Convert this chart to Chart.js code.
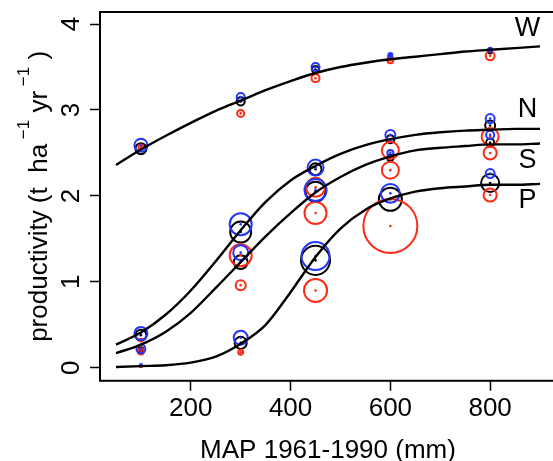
<!DOCTYPE html>
<html lang="en">
<head>
<meta charset="UTF-8">
<title>Productivity vs MAP</title>
<script src="https://cdn.jsdelivr.net/npm/chart.js"></script>
<style>
  html, body { margin: 0; padding: 0; overflow: hidden; background: #fff; }
</style>
</head>
<body>
<canvas id="prodChart" width="560" height="461"></canvas>
<script>
// rainfall classes (mm) where the site means sit
const mapMm = [100, 300, 450, 600, 800];

// means (t/ha/yr) per group W, N, S, P and their spread (same units) -> circle size
const blueW = [2.59, 3.15, 3.50, 3.64, 3.70];
const blueN = [0.40, 1.67, 2.33, 2.71, 2.90];
const blueS = [0.22, 1.34, 2.07, 2.50, 2.71];
const blueP = [0.03, 0.35, 1.30, 2.03, 2.26];
const blueWse = [0.076, 0.047, 0.047, 0.023, 0.023];
const blueNse = [0.076, 0.128, 0.093, 0.058, 0.052];
const blueSse = [0.052, 0.087, 0.128, 0.035, 0.047];
const bluePse = [0.014, 0.081, 0.163, 0.110, 0.052];

const blackW = [2.55, 3.10, 3.47, 3.62, 3.68];
const blackN = [0.38, 1.58, 2.31, 2.66, 2.82];
const blackS = [0.21, 1.23, 2.05, 2.44, 2.62];
const blackP = [0.02, 0.29, 1.25, 1.96, 2.15];
const blackWse = [0.064, 0.047, 0.041, 0.023, 0.023];
const blackNse = [0.064, 0.122, 0.070, 0.047, 0.058];
const blackSse = [0.029, 0.081, 0.116, 0.035, 0.047];
const blackPse = [0.012, 0.070, 0.169, 0.134, 0.105];

const redW = [2.57, 2.96, 3.37, 3.58, 3.63];
const redN = [0.32, 1.31, 2.10, 2.53, 2.69];
const redS = [0.19, 0.96, 1.80, 2.30, 2.50];
const redP = [0.02, 0.18, 0.90, 1.65, 2.01];
const redWse = [0.029, 0.041, 0.047, 0.035, 0.052];
const redNse = [0.017, 0.128, 0.110, 0.099, 0.099];
const redSse = [0.035, 0.058, 0.128, 0.099, 0.076];
const redPse = [0.012, 0.029, 0.134, 0.314, 0.076];

// fitted curves
const curveMm = [50, 100, 150, 200, 250, 300, 350, 400, 450, 500, 550, 600, 650, 700, 750, 800, 850, 900];
const curveW = [2.36, 2.54, 2.70, 2.85, 2.99, 3.11, 3.23, 3.335, 3.43, 3.50, 3.55, 3.59, 3.62, 3.65, 3.68, 3.70, 3.72, 3.74];
const curveN = [0.27, 0.41, 0.62, 0.90, 1.24, 1.60, 1.93, 2.18, 2.35, 2.49, 2.59, 2.66, 2.71, 2.74, 2.76, 2.77, 2.78, 2.78];
const curveS = [0.17, 0.27, 0.42, 0.64, 0.93, 1.23, 1.53, 1.80, 2.04, 2.22, 2.36, 2.46, 2.53, 2.56, 2.58, 2.60, 2.60, 2.61];
const curveP = [0.01, 0.02, 0.03, 0.06, 0.13, 0.28, 0.50, 0.88, 1.29, 1.62, 1.84, 1.97, 2.05, 2.09, 2.11, 2.13, 2.13, 2.14];

const groupNames = ['W', 'N', 'S', 'P'];
const xTicks = [200, 400, 600, 800];
const yTicks = [0, 1, 2, 3, 4];

const FONT = "'Liberation Sans', Arial, Helvetica, sans-serif";
const BLUE = '#2236ff';
const RED = '#ff2a14';
const BLACK = '#000000';

function pts(ys, ses) {
  return mapMm.map((x, i) => ({ x: x, y: ys[i], se: ses ? ses[i] : 0 }));
}

// circle radius = spread, converted with the y scale
function seRadius(ctx) {
  const s = ctx.chart.scales.y;
  const se = ctx.raw ? ctx.raw.se : 0;
  return Math.max(1, Math.abs(s.getPixelForValue(0) - s.getPixelForValue(se)));
}

function rings(ys, ses, col) {
  return {
    type: 'scatter',
    data: pts(ys, ses),
    pointStyle: 'circle',
    pointRadius: seRadius,
    pointBackgroundColor: 'rgba(0,0,0,0)',
    pointBorderColor: col,
    pointBorderWidth: 2
  };
}

function dots(ys, col) {
  return {
    type: 'scatter',
    data: pts(ys),
    pointRadius: 1.3,
    pointBackgroundColor: col,
    pointBorderWidth: 0
  };
}

function curve(ys) {
  return {
    type: 'line',
    data: curveMm.map((x, i) => ({ x: x, y: ys[i] })),
    borderColor: BLACK,
    borderWidth: 2.4,
    pointRadius: 0,
    fill: false,
    cubicInterpolationMode: 'monotone'
  };
}

const datasets = [
  curve(curveW), curve(curveN), curve(curveS), curve(curveP),
  dots(blueW, BLUE), dots(blueN, BLUE), dots(blueS, BLUE), dots(blueP, BLUE),
  rings(blueW, blueWse, BLUE), rings(blueN, blueNse, BLUE), rings(blueS, blueSse, BLUE), rings(blueP, bluePse, BLUE),
  dots(redW, RED), dots(redN, RED), dots(redS, RED), dots(redP, RED),
  rings(redW, redWse, RED), rings(redN, redNse, RED), rings(redS, redSse, RED), rings(redP, redPse, RED),
  dots(blackW, BLACK), dots(blackN, BLACK), dots(blackS, BLACK), dots(blackP, BLACK),
  rings(blackW, blackWse, BLACK), rings(blackN, blackNse, BLACK), rings(blackS, blackSse, BLACK), rings(blackP, blackPse, BLACK)
];

// where the W/N/S/P tags sit (data units)
const tagX = 875;
const tagY = [3.95, 3.0, 2.41, 1.945];

const framePlugin = {
  id: 'framePlugin',
  afterDraw(chart) {
    const ctx = chart.ctx;
    const a = chart.chartArea;
    const ys = chart.scales.y;
    const xs = chart.scales.x;
    ctx.save();
    ctx.strokeStyle = BLACK;
    ctx.lineWidth = 2;
    ctx.strokeRect(a.left, a.top, a.right - a.left, a.bottom - a.top);

    // y tick labels, R style (rotated)
    ctx.fillStyle = BLACK;
    ctx.font = '26px ' + FONT;
    ctx.textAlign = 'center';
    ctx.textBaseline = 'middle';
    yTicks.forEach(v => {
      ctx.save();
      ctx.translate(a.left - 28, ys.getPixelForValue(v));
      ctx.rotate(-Math.PI / 2);
      ctx.fillText(String(v), 0, 0);
      ctx.restore();
    });

    // group tags
    ctx.font = '27px ' + FONT;
    groupNames.forEach((g, i) => {
      ctx.fillText(g, xs.getPixelForValue(tagX), ys.getPixelForValue(tagY[i]));
    });

    // y title with superscripts
    const parts = [
      { t: 'productivity (t  ha', sup: false },
      { t: ' \u22121', sup: true },
      { t: ' yr', sup: false },
      { t: ' \u22121', sup: true },
      { t: ' )', sup: false }
    ];
    const mainFont = '26px ' + FONT;
    const supFont = '17px ' + FONT;
    let total = 0;
    parts.forEach(p => {
      ctx.font = p.sup ? supFont : mainFont;
      p.w = ctx.measureText(p.t).width;
      total += p.w;
    });
    ctx.translate(47, (a.top + a.bottom) / 2);
    ctx.rotate(-Math.PI / 2);
    ctx.textAlign = 'left';
    ctx.textBaseline = 'alphabetic';
    let pos = -total / 2;
    parts.forEach(p => {
      ctx.font = p.sup ? supFont : mainFont;
      ctx.fillText(p.t, pos, p.sup ? -18 : 0);
      pos += p.w;
    });
    ctx.restore();
  }
};

new Chart(document.getElementById('prodChart'), {
  type: 'scatter',
  data: { datasets: datasets },
  options: {
    responsive: false,
    animation: false,
    events: [],
    layout: { padding: { left: 90, top: 12, right: 3, bottom: 0 } },
    plugins: { legend: { display: false }, tooltip: { enabled: false } },
    scales: {
      x: {
        type: 'linear',
        min: 18,
        max: 932,
        afterBuildTicks: axis => { axis.ticks = xTicks.map(v => ({ value: v })); },
        grid: { display: true, drawOnChartArea: false, drawTicks: true, tickLength: 10, tickColor: BLACK, tickWidth: 1.5 },
        border: { display: false },
        ticks: { color: BLACK, padding: 2, maxRotation: 0, font: { size: 26, family: FONT } },
        title: { display: true, text: 'MAP 1961-1990 (mm)', color: BLACK, padding: { top: 15, bottom: 0 }, font: { size: 26, family: FONT, lineHeight: 0.77 } }
      },
      y: {
        type: 'linear',
        min: -0.151,
        max: 4.14,
        afterBuildTicks: axis => { axis.ticks = yTicks.map(v => ({ value: v })); },
        grid: { display: true, drawOnChartArea: false, drawTicks: true, tickLength: 10, tickColor: BLACK, tickWidth: 1.5 },
        border: { display: false },
        ticks: { display: false }
      }
    }
  },
  plugins: [framePlugin]
});
</script>
</body>
</html>
